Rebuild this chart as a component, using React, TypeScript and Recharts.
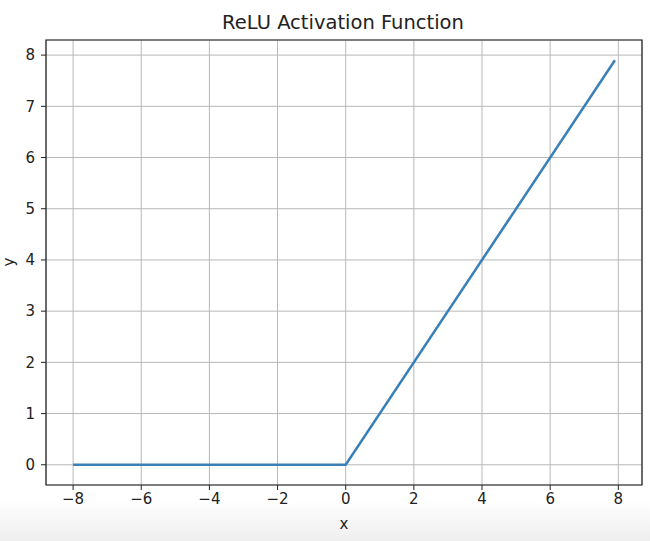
import React from 'react';
import { LineChart, Line, XAxis, YAxis, CartesianGrid, ReferenceArea } from 'recharts';

const xPoints = [-8, 0, 7.9];
const yPoints = [0, 0, 7.9];
const xTicks = [-8, -6, -4, -2, 0, 2, 4, 6, 8];
const yTicks = [0, 1, 2, 3, 4, 5, 6, 7, 8];
const xDomain: [number, number] = [-8.795, 8.695];
const yDomain: [number, number] = [-0.395, 8.295];

const data = xPoints.map((x, i) => ({ x, y: yPoints[i] }));

const font = '"DejaVu Sans", sans-serif';
const fmt = (v: number) => String(v).replace('-', '\u2212');

export default function App() {
  return (
    <div style={{ position: 'absolute', left: 0, top: 0, width: 650, height: 541, background: '#fff', fontFamily: font }}>
      <div style={{ position: 'absolute', left: 0, top: 500, width: 650, height: 41, background: 'linear-gradient(#ffffff, #eeeeee)' }} />
      <div style={{ position: 'absolute', left: 0, top: 0 }}>
        <LineChart width={650} height={541} data={data} margin={{ top: 40, right: 8, bottom: 0, left: 0 }}>
          <CartesianGrid stroke="#b8b8b8" strokeWidth={1} />
          <XAxis
            dataKey="x"
            type="number"
            domain={xDomain}
            ticks={xTicks}
            allowDataOverflow
            tickFormatter={fmt}
            height={56}
            tickSize={5}
            tickMargin={3}
            axisLine={false}
            tickLine={{ stroke: '#222' }}
            tick={{ fill: '#222', fontSize: 15, fontFamily: font }}
          />
          <YAxis
            dataKey="y"
            type="number"
            domain={yDomain}
            ticks={yTicks}
            allowDataOverflow
            tickFormatter={fmt}
            width={46}
            tickSize={5}
            tickMargin={6}
            axisLine={false}
            tickLine={{ stroke: '#222' }}
            tick={{ fill: '#222', fontSize: 15, fontFamily: font }}
          />
          <ReferenceArea x1={xDomain[0]} x2={xDomain[1]} y1={yDomain[0]} y2={yDomain[1]} fill="none" stroke="#222" strokeWidth={1.2} ifOverflow="visible" />
          <Line dataKey="y" type="linear" stroke="#3a80b8" strokeWidth={2.5} dot={false} isAnimationActive={false} />
        </LineChart>
      </div>
      <div style={{ position: 'absolute', left: 0, top: 11, width: 686, textAlign: 'center', fontSize: 19.5, color: '#222' }}>ReLU Activation Function</div>
      <div style={{ position: 'absolute', left: 46, top: 515, width: 596, textAlign: 'center', fontSize: 15, color: '#222' }}>x</div>
      <div style={{ position: 'absolute', left: 2, top: 252, width: 14, height: 20, lineHeight: '20px', textAlign: 'center', fontSize: 15, color: '#222', transform: 'rotate(-90deg)' }}>y</div>
    </div>
  );
}
